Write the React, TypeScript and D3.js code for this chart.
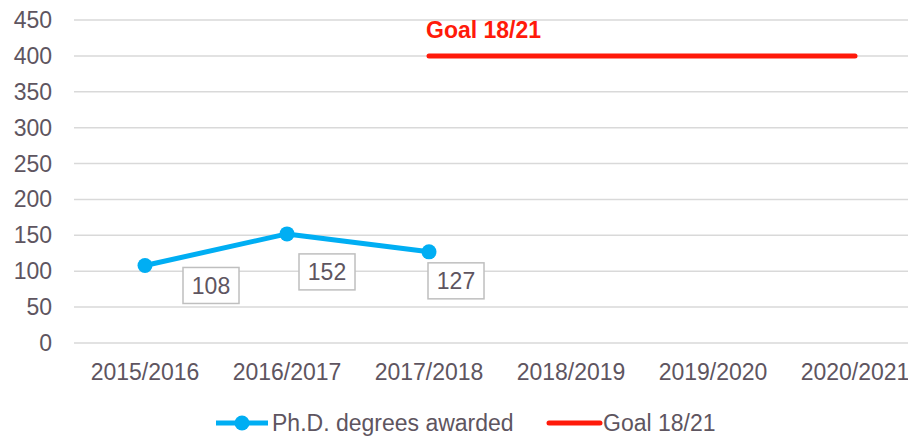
import React from "react";
import * as d3 from "d3";

const categories = ["2015/2016", "2016/2017", "2017/2018", "2018/2019", "2019/2020", "2020/2021"];
const phdValues: (number | null)[] = [108, 152, 127, null, null, null];
const goalValues: (number | null)[] = [null, null, 400, 400, 400, 400];
const yTicks = [0, 50, 100, 150, 200, 250, 300, 350, 400, 450];
const seriesNames = ["Ph.D. degrees awarded", "Goal 18/21"];
const goalLabel = "Goal 18/21";
// manual label placement (px offsets from point), as in the original
const labelOffsets = [[66, 20], [40, 38], [27, 29]];

const W = 908;
const H = 436;
const TEXT = "#5E5560";
const BLUE = "#00AEF3";
const RED = "#FF1A0A";
const FONT = "'Liberation Sans', Arial, sans-serif";

export default function App() {
  const x = d3.scaleBand<string>().domain(categories).range([74, 926]);
  const y = d3.scaleLinear().domain([0, 450]).range([343, 20]);
  const cx = (c: string) => (x(c) as number) + x.bandwidth() / 2;

  const line = d3
    .line<number | null>()
    .defined((d) => d != null)
    .x((_, i) => cx(categories[i]))
    .y((d) => y(d as number));

  const goalStart = goalValues.findIndex((v) => v != null);

  return (
    <div style={{ position: "absolute", left: 0, top: 0 }}>
      <svg width={W} height={H} style={{ display: "block", background: "#fff" }} fontFamily={FONT}>
        {yTicks.map((t) => (
          <g key={t}>
            <line x1={74} x2={926} y1={y(t)} y2={y(t)} stroke="#D9D9D9" strokeWidth={1.5} />
            <text x={52} y={y(t)} dy="0.35em" textAnchor="end" fontSize={23} fill={TEXT}>
              {t}
            </text>
          </g>
        ))}
        {categories.map((c) => (
          <text key={c} x={cx(c)} y={380} textAnchor="middle" fontSize={23} fill={TEXT}>
            {c}
          </text>
        ))}
        <path d={line(goalValues) || ""} fill="none" stroke={RED} strokeWidth={5} strokeLinecap="round" />
        <text x={cx(categories[goalStart]) - 3} y={38} fontSize={23} fontWeight="bold" fill={RED}>
          {goalLabel}
        </text>
        <path d={line(phdValues) || ""} fill="none" stroke={BLUE} strokeWidth={5} strokeLinejoin="round" />
        {phdValues.map((v, i) =>
          v == null ? null : (
            <circle key={i} cx={cx(categories[i])} cy={y(v)} r={7.5} fill={BLUE} />
          )
        )}
        {phdValues.map((v, i) => {
          if (v == null) return null;
          const px = cx(categories[i]) + labelOffsets[i][0];
          const py = y(v) + labelOffsets[i][1];
          return (
            <g key={"l" + i}>
              <rect x={px - 28} y={py - 18} width={56} height={36} fill="#fff" stroke="#BFBFBF" strokeWidth={1.5} />
              <text x={px} y={py} dy="0.35em" textAnchor="middle" fontSize={23} fill={TEXT}>
                {v}
              </text>
            </g>
          );
        })}
        {/* legend */}
        <g>
          <line x1={216} x2={268} y1={423} y2={423} stroke={BLUE} strokeWidth={5} />
          <circle cx={242} cy={423} r={7.5} fill={BLUE} />
          <text x={272} y={423} dy="0.35em" fontSize={23} fill={TEXT}>
            {seriesNames[0]}
          </text>
          <line x1={549} x2={600} y1={423} y2={423} stroke={RED} strokeWidth={5} strokeLinecap="round" />
          <text x={603} y={423} dy="0.35em" fontSize={23} fill={TEXT}>
            {seriesNames[1]}
          </text>
        </g>
      </svg>
    </div>
  );
}
